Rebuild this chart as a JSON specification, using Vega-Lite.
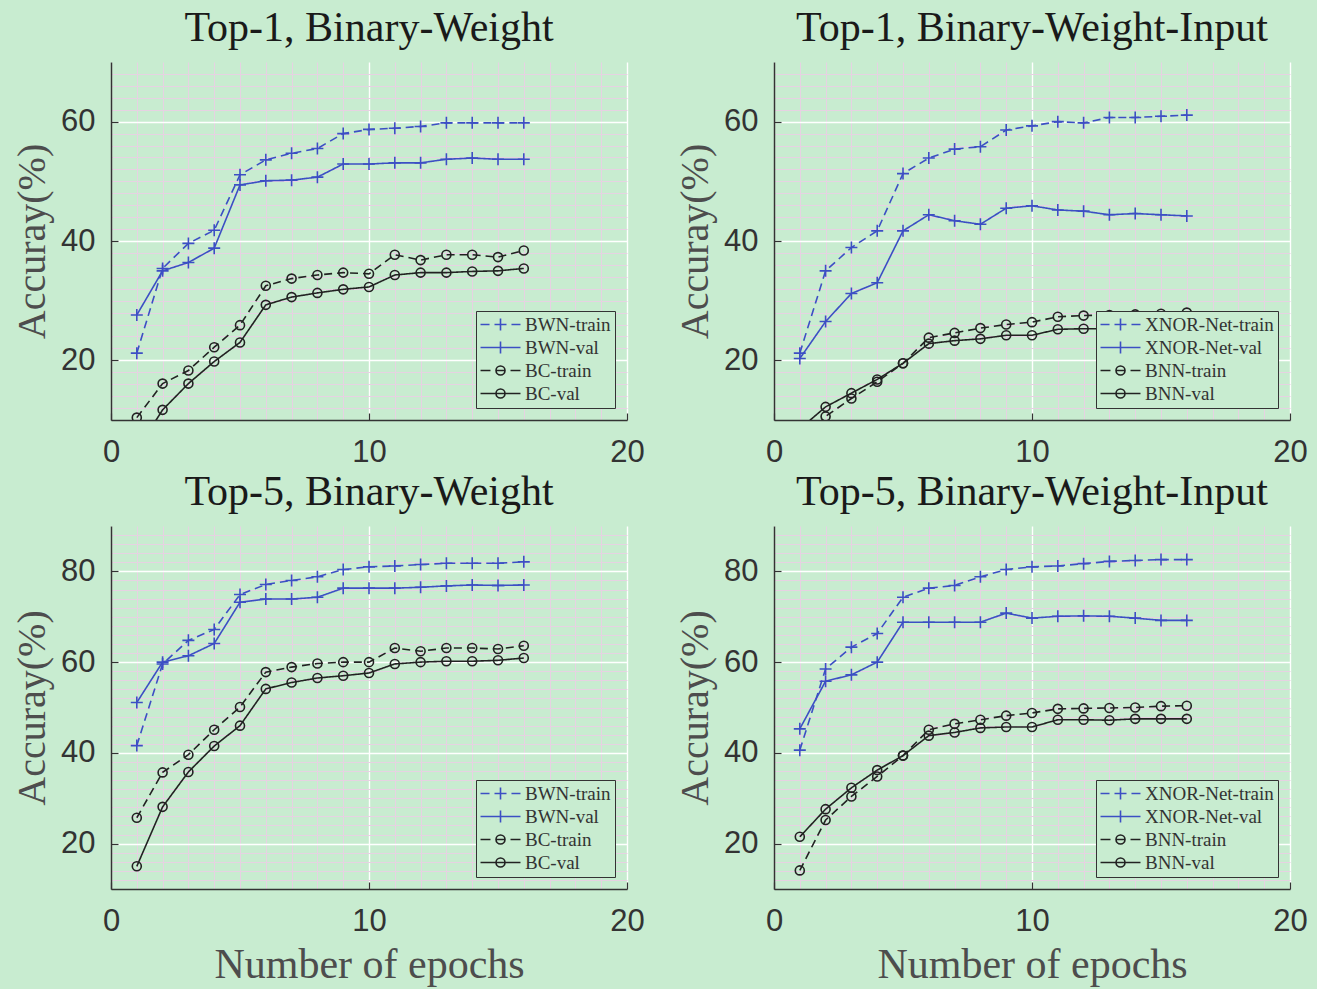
{
"$schema": "https://vega.github.io/schema/vega-lite/v6.json",
"background": "#c8ecd0",
"padding": {"left": 12, "top": 7, "right": 10, "bottom": 4},
"datasets": {
"a": [
{"series":"BWN-train","epoch":1,"acc":21.2},{"series":"BWN-train","epoch":2,"acc":35.4},{"series":"BWN-train","epoch":3,"acc":39.6},{"series":"BWN-train","epoch":4,"acc":41.8},{"series":"BWN-train","epoch":5,"acc":51.1},{"series":"BWN-train","epoch":6,"acc":53.6},{"series":"BWN-train","epoch":7,"acc":54.7},{"series":"BWN-train","epoch":8,"acc":55.5},{"series":"BWN-train","epoch":9,"acc":58.0},{"series":"BWN-train","epoch":10,"acc":58.7},{"series":"BWN-train","epoch":11,"acc":58.9},{"series":"BWN-train","epoch":12,"acc":59.2},{"series":"BWN-train","epoch":13,"acc":59.8},{"series":"BWN-train","epoch":14,"acc":59.8},{"series":"BWN-train","epoch":15,"acc":59.8},{"series":"BWN-train","epoch":16,"acc":59.8},
{"series":"BWN-val","epoch":1,"acc":27.6},{"series":"BWN-val","epoch":2,"acc":35.0},{"series":"BWN-val","epoch":3,"acc":36.4},{"series":"BWN-val","epoch":4,"acc":38.8},{"series":"BWN-val","epoch":5,"acc":49.4},{"series":"BWN-val","epoch":6,"acc":50.1},{"series":"BWN-val","epoch":7,"acc":50.2},{"series":"BWN-val","epoch":8,"acc":50.7},{"series":"BWN-val","epoch":9,"acc":52.9},{"series":"BWN-val","epoch":10,"acc":52.9},{"series":"BWN-val","epoch":11,"acc":53.1},{"series":"BWN-val","epoch":12,"acc":53.1},{"series":"BWN-val","epoch":13,"acc":53.7},{"series":"BWN-val","epoch":14,"acc":53.9},{"series":"BWN-val","epoch":15,"acc":53.7},{"series":"BWN-val","epoch":16,"acc":53.7},
{"series":"BC-train","epoch":1,"acc":10.4},{"series":"BC-train","epoch":2,"acc":16.1},{"series":"BC-train","epoch":3,"acc":18.3},{"series":"BC-train","epoch":4,"acc":22.2},{"series":"BC-train","epoch":5,"acc":25.9},{"series":"BC-train","epoch":6,"acc":32.5},{"series":"BC-train","epoch":7,"acc":33.7},{"series":"BC-train","epoch":8,"acc":34.3},{"series":"BC-train","epoch":9,"acc":34.7},{"series":"BC-train","epoch":10,"acc":34.5},{"series":"BC-train","epoch":11,"acc":37.7},{"series":"BC-train","epoch":12,"acc":36.8},{"series":"BC-train","epoch":13,"acc":37.7},{"series":"BC-train","epoch":14,"acc":37.7},{"series":"BC-train","epoch":15,"acc":37.3},{"series":"BC-train","epoch":16,"acc":38.4},
{"series":"BC-val","epoch":1,"acc":4.9},{"series":"BC-val","epoch":2,"acc":11.7},{"series":"BC-val","epoch":3,"acc":16.1},{"series":"BC-val","epoch":4,"acc":19.8},{"series":"BC-val","epoch":5,"acc":23.0},{"series":"BC-val","epoch":6,"acc":29.3},{"series":"BC-val","epoch":7,"acc":30.6},{"series":"BC-val","epoch":8,"acc":31.3},{"series":"BC-val","epoch":9,"acc":31.9},{"series":"BC-val","epoch":10,"acc":32.3},{"series":"BC-val","epoch":11,"acc":34.3},{"series":"BC-val","epoch":12,"acc":34.7},{"series":"BC-val","epoch":13,"acc":34.7},{"series":"BC-val","epoch":14,"acc":34.9},{"series":"BC-val","epoch":15,"acc":35.0},{"series":"BC-val","epoch":16,"acc":35.4}
],
"b": [
{"series":"XNOR-Net-train","epoch":1,"acc":21.2},{"series":"XNOR-Net-train","epoch":2,"acc":35.0},{"series":"XNOR-Net-train","epoch":3,"acc":38.9},{"series":"XNOR-Net-train","epoch":4,"acc":41.7},{"series":"XNOR-Net-train","epoch":5,"acc":51.3},{"series":"XNOR-Net-train","epoch":6,"acc":53.9},{"series":"XNOR-Net-train","epoch":7,"acc":55.4},{"series":"XNOR-Net-train","epoch":8,"acc":55.8},{"series":"XNOR-Net-train","epoch":9,"acc":58.6},{"series":"XNOR-Net-train","epoch":10,"acc":59.3},{"series":"XNOR-Net-train","epoch":11,"acc":60.0},{"series":"XNOR-Net-train","epoch":12,"acc":59.8},{"series":"XNOR-Net-train","epoch":13,"acc":60.7},{"series":"XNOR-Net-train","epoch":14,"acc":60.7},{"series":"XNOR-Net-train","epoch":15,"acc":60.9},{"series":"XNOR-Net-train","epoch":16,"acc":61.1},
{"series":"XNOR-Net-val","epoch":1,"acc":20.3},{"series":"XNOR-Net-val","epoch":2,"acc":26.5},{"series":"XNOR-Net-val","epoch":3,"acc":31.2},{"series":"XNOR-Net-val","epoch":4,"acc":33.0},{"series":"XNOR-Net-val","epoch":5,"acc":41.7},{"series":"XNOR-Net-val","epoch":6,"acc":44.4},{"series":"XNOR-Net-val","epoch":7,"acc":43.4},{"series":"XNOR-Net-val","epoch":8,"acc":42.8},{"series":"XNOR-Net-val","epoch":9,"acc":45.5},{"series":"XNOR-Net-val","epoch":10,"acc":45.9},{"series":"XNOR-Net-val","epoch":11,"acc":45.2},{"series":"XNOR-Net-val","epoch":12,"acc":45.0},{"series":"XNOR-Net-val","epoch":13,"acc":44.4},{"series":"XNOR-Net-val","epoch":14,"acc":44.6},{"series":"XNOR-Net-val","epoch":15,"acc":44.4},{"series":"XNOR-Net-val","epoch":16,"acc":44.2},
{"series":"BNN-train","epoch":1,"acc":6.0},{"series":"BNN-train","epoch":2,"acc":10.6},{"series":"BNN-train","epoch":3,"acc":13.6},{"series":"BNN-train","epoch":4,"acc":16.4},{"series":"BNN-train","epoch":5,"acc":19.5},{"series":"BNN-train","epoch":6,"acc":23.8},{"series":"BNN-train","epoch":7,"acc":24.6},{"series":"BNN-train","epoch":8,"acc":25.4},{"series":"BNN-train","epoch":9,"acc":26.0},{"series":"BNN-train","epoch":10,"acc":26.4},{"series":"BNN-train","epoch":11,"acc":27.3},{"series":"BNN-train","epoch":12,"acc":27.5},{"series":"BNN-train","epoch":13,"acc":27.6},{"series":"BNN-train","epoch":14,"acc":27.7},{"series":"BNN-train","epoch":15,"acc":27.8},{"series":"BNN-train","epoch":16,"acc":28.0},
{"series":"BNN-val","epoch":1,"acc":8.5},{"series":"BNN-val","epoch":2,"acc":12.2},{"series":"BNN-val","epoch":3,"acc":14.5},{"series":"BNN-val","epoch":4,"acc":16.8},{"series":"BNN-val","epoch":5,"acc":19.5},{"series":"BNN-val","epoch":6,"acc":22.8},{"series":"BNN-val","epoch":7,"acc":23.3},{"series":"BNN-val","epoch":8,"acc":23.6},{"series":"BNN-val","epoch":9,"acc":24.2},{"series":"BNN-val","epoch":10,"acc":24.2},{"series":"BNN-val","epoch":11,"acc":25.2},{"series":"BNN-val","epoch":12,"acc":25.3},{"series":"BNN-val","epoch":13,"acc":25.3},{"series":"BNN-val","epoch":14,"acc":25.4},{"series":"BNN-val","epoch":15,"acc":25.5},{"series":"BNN-val","epoch":16,"acc":25.5}
],
"c": [
{"series":"BWN-train","epoch":1,"acc":41.6},{"series":"BWN-train","epoch":2,"acc":59.6},{"series":"BWN-train","epoch":3,"acc":64.8},{"series":"BWN-train","epoch":4,"acc":67.2},{"series":"BWN-train","epoch":5,"acc":74.9},{"series":"BWN-train","epoch":6,"acc":77.1},{"series":"BWN-train","epoch":7,"acc":78.0},{"series":"BWN-train","epoch":8,"acc":78.8},{"series":"BWN-train","epoch":9,"acc":80.4},{"series":"BWN-train","epoch":10,"acc":81.0},{"series":"BWN-train","epoch":11,"acc":81.2},{"series":"BWN-train","epoch":12,"acc":81.5},{"series":"BWN-train","epoch":13,"acc":81.8},{"series":"BWN-train","epoch":14,"acc":81.8},{"series":"BWN-train","epoch":15,"acc":81.8},{"series":"BWN-train","epoch":16,"acc":82.1},
{"series":"BWN-val","epoch":1,"acc":51.1},{"series":"BWN-val","epoch":2,"acc":60.0},{"series":"BWN-val","epoch":3,"acc":61.4},{"series":"BWN-val","epoch":4,"acc":64.1},{"series":"BWN-val","epoch":5,"acc":73.2},{"series":"BWN-val","epoch":6,"acc":73.9},{"series":"BWN-val","epoch":7,"acc":73.9},{"series":"BWN-val","epoch":8,"acc":74.3},{"series":"BWN-val","epoch":9,"acc":76.3},{"series":"BWN-val","epoch":10,"acc":76.3},{"series":"BWN-val","epoch":11,"acc":76.3},{"series":"BWN-val","epoch":12,"acc":76.5},{"series":"BWN-val","epoch":13,"acc":76.8},{"series":"BWN-val","epoch":14,"acc":77.0},{"series":"BWN-val","epoch":15,"acc":76.9},{"series":"BWN-val","epoch":16,"acc":77.0},
{"series":"BC-train","epoch":1,"acc":25.7},{"series":"BC-train","epoch":2,"acc":35.7},{"series":"BC-train","epoch":3,"acc":39.6},{"series":"BC-train","epoch":4,"acc":45.1},{"series":"BC-train","epoch":5,"acc":50.1},{"series":"BC-train","epoch":6,"acc":57.8},{"series":"BC-train","epoch":7,"acc":58.9},{"series":"BC-train","epoch":8,"acc":59.7},{"series":"BC-train","epoch":9,"acc":60.0},{"series":"BC-train","epoch":10,"acc":60.0},{"series":"BC-train","epoch":11,"acc":63.1},{"series":"BC-train","epoch":12,"acc":62.4},{"series":"BC-train","epoch":13,"acc":63.1},{"series":"BC-train","epoch":14,"acc":63.1},{"series":"BC-train","epoch":15,"acc":62.9},{"series":"BC-train","epoch":16,"acc":63.6},
{"series":"BC-val","epoch":1,"acc":15.0},{"series":"BC-val","epoch":2,"acc":28.1},{"series":"BC-val","epoch":3,"acc":35.8},{"series":"BC-val","epoch":4,"acc":41.5},{"series":"BC-val","epoch":5,"acc":46.0},{"series":"BC-val","epoch":6,"acc":54.1},{"series":"BC-val","epoch":7,"acc":55.5},{"series":"BC-val","epoch":8,"acc":56.5},{"series":"BC-val","epoch":9,"acc":57.0},{"series":"BC-val","epoch":10,"acc":57.6},{"series":"BC-val","epoch":11,"acc":59.6},{"series":"BC-val","epoch":12,"acc":60.0},{"series":"BC-val","epoch":13,"acc":60.2},{"series":"BC-val","epoch":14,"acc":60.2},{"series":"BC-val","epoch":15,"acc":60.4},{"series":"BC-val","epoch":16,"acc":60.9}
],
"d": [
{"series":"XNOR-Net-train","epoch":1,"acc":40.6},{"series":"XNOR-Net-train","epoch":2,"acc":58.5},{"series":"XNOR-Net-train","epoch":3,"acc":63.3},{"series":"XNOR-Net-train","epoch":4,"acc":66.3},{"series":"XNOR-Net-train","epoch":5,"acc":74.3},{"series":"XNOR-Net-train","epoch":6,"acc":76.3},{"series":"XNOR-Net-train","epoch":7,"acc":76.9},{"series":"XNOR-Net-train","epoch":8,"acc":78.8},{"series":"XNOR-Net-train","epoch":9,"acc":80.4},{"series":"XNOR-Net-train","epoch":10,"acc":81.0},{"series":"XNOR-Net-train","epoch":11,"acc":81.2},{"series":"XNOR-Net-train","epoch":12,"acc":81.7},{"series":"XNOR-Net-train","epoch":13,"acc":82.2},{"series":"XNOR-Net-train","epoch":14,"acc":82.4},{"series":"XNOR-Net-train","epoch":15,"acc":82.6},{"series":"XNOR-Net-train","epoch":16,"acc":82.6},
{"series":"XNOR-Net-val","epoch":1,"acc":45.3},{"series":"XNOR-Net-val","epoch":2,"acc":55.8},{"series":"XNOR-Net-val","epoch":3,"acc":57.2},{"series":"XNOR-Net-val","epoch":4,"acc":60.0},{"series":"XNOR-Net-val","epoch":5,"acc":68.8},{"series":"XNOR-Net-val","epoch":6,"acc":68.8},{"series":"XNOR-Net-val","epoch":7,"acc":68.8},{"series":"XNOR-Net-val","epoch":8,"acc":68.8},{"series":"XNOR-Net-val","epoch":9,"acc":70.8},{"series":"XNOR-Net-val","epoch":10,"acc":69.7},{"series":"XNOR-Net-val","epoch":11,"acc":70.1},{"series":"XNOR-Net-val","epoch":12,"acc":70.2},{"series":"XNOR-Net-val","epoch":13,"acc":70.1},{"series":"XNOR-Net-val","epoch":14,"acc":69.7},{"series":"XNOR-Net-val","epoch":15,"acc":69.2},{"series":"XNOR-Net-val","epoch":16,"acc":69.2},
{"series":"BNN-train","epoch":1,"acc":14.1},{"series":"BNN-train","epoch":2,"acc":25.2},{"series":"BNN-train","epoch":3,"acc":30.4},{"series":"BNN-train","epoch":4,"acc":34.8},{"series":"BNN-train","epoch":5,"acc":39.4},{"series":"BNN-train","epoch":6,"acc":45.1},{"series":"BNN-train","epoch":7,"acc":46.4},{"series":"BNN-train","epoch":8,"acc":47.3},{"series":"BNN-train","epoch":9,"acc":48.2},{"series":"BNN-train","epoch":10,"acc":48.8},{"series":"BNN-train","epoch":11,"acc":49.7},{"series":"BNN-train","epoch":12,"acc":49.8},{"series":"BNN-train","epoch":13,"acc":49.9},{"series":"BNN-train","epoch":14,"acc":50.0},{"series":"BNN-train","epoch":15,"acc":50.3},{"series":"BNN-train","epoch":16,"acc":50.4},
{"series":"BNN-val","epoch":1,"acc":21.5},{"series":"BNN-val","epoch":2,"acc":27.6},{"series":"BNN-val","epoch":3,"acc":32.3},{"series":"BNN-val","epoch":4,"acc":36.2},{"series":"BNN-val","epoch":5,"acc":39.4},{"series":"BNN-val","epoch":6,"acc":43.8},{"series":"BNN-val","epoch":7,"acc":44.5},{"series":"BNN-val","epoch":8,"acc":45.5},{"series":"BNN-val","epoch":9,"acc":45.7},{"series":"BNN-val","epoch":10,"acc":45.7},{"series":"BNN-val","epoch":11,"acc":47.3},{"series":"BNN-val","epoch":12,"acc":47.3},{"series":"BNN-val","epoch":13,"acc":47.2},{"series":"BNN-val","epoch":14,"acc":47.5},{"series":"BNN-val","epoch":15,"acc":47.5},{"series":"BNN-val","epoch":16,"acc":47.5}
]
},
"columns": 2,
"spacing": {"row": 4, "column": 30},
"concat": [
{
"width": 516, "height": 358,
"title": "Top-1, Binary-Weight",
"data": {"name": "a"},
"layer": [
{"mark": {"type": "line", "clip": true, "strokeWidth": 1.6},
 "encoding": {
  "x": {"field": "epoch", "type": "quantitative", "scale": {"domain": [0, 20], "nice": false, "zero": false}, "axis": {"orient": "bottom", "values": [0, 10, 20], "title": null}},
  "y": {"field": "acc", "type": "quantitative", "scale": {"domain": [10, 70], "nice": false, "zero": false}, "axis": {"orient": "left", "values": [20, 40, 60], "title": "Accuray(%)"}},
  "stroke": {"field": "series", "type": "nominal", "scale": {"domain": ["BWN-val", "BWN-train", "BC-val", "BC-train"], "range": ["#3c4fc4", "#3c4fc4", "#222222", "#222222"]}, "legend": null},
  "strokeDash": {"field": "series", "type": "nominal", "scale": {"domain": ["BC-train", "BC-val", "BWN-train", "BWN-val"], "range": [[8, 5], [1, 0], [8, 5], [1, 0]]}, "legend": null}
 }},
{"transform": [{"filter": {"field": "series", "oneOf": ["BWN-train", "BWN-val"]}}],
 "mark": {"type": "point", "clip": true, "shape": "M-1,0H1M0,-1V1", "size": 144, "filled": false, "strokeWidth": 1.6, "opacity": 1},
 "encoding": {
  "x": {"field": "epoch", "type": "quantitative", "axis": {"orient": "top", "values": [1,2,3,4,5,6,7,8,9,11,12,13,14,15,16,17,18,19], "grid": true, "gridColor": "#e6d2e2", "gridWidth": 1, "labels": false, "ticks": false, "domain": false, "title": null}},
  "y": {"field": "acc", "type": "quantitative", "axis": {"orient": "right", "values": [12,14,16,18,22,24,26,28,30,32,34,36,38,42,44,46,48,50,52,54,56,58,62,64,66,68], "grid": true, "gridColor": "#e6d2e2", "gridWidth": 1, "labels": false, "ticks": false, "domain": false, "title": null}},
  "stroke": {"field": "series", "type": "nominal", "legend": null}
 }},
{"transform": [{"filter": {"field": "series", "oneOf": ["BC-train", "BC-val"]}}],
 "mark": {"type": "point", "clip": true, "shape": "circle", "size": 81, "filled": false, "strokeWidth": 1.6, "opacity": 1},
 "encoding": {
  "x": {"field": "epoch", "type": "quantitative", "axis": null},
  "y": {"field": "acc", "type": "quantitative", "axis": null},
  "stroke": {"field": "series", "type": "nominal", "legend": null}
 }},
{"mark": {"type": "point", "filled": false, "strokeWidth": 1.6, "opacity": 0, "clip": true},
 "encoding": {
  "x": {"field": "epoch", "type": "quantitative", "axis": null},
  "y": {"field": "acc", "type": "quantitative", "axis": null},
  "color": {"field": "series", "type": "nominal", "scale": {"domain": ["BWN-train", "BWN-val", "BC-train", "BC-val"], "range": ["#3c4fc4", "#3c4fc4", "#222222", "#222222"]}, "legend": {"title": null, "symbolOpacity": 1}},
  "shape": {"field": "series", "type": "nominal", "scale": {"domain": ["BWN-train", "BWN-val", "BC-train", "BC-val"], "range": ["M-3.33,0H-1.83M-1,0H1M0,-1V1M1.83,0H3.33", "M-3.33,0H3.33M0,-1V1", "M-3.33,0H-1.67M1.67,0H3.33M-0.75,0A0.75,0.75,0,1,0,0.75,0A0.75,0.75,0,1,0,-0.75,0M-0.75,0H0.75", "M-3.33,0H3.33M-0.75,0A0.75,0.75,0,1,0,0.75,0A0.75,0.75,0,1,0,-0.75,0"]}, "legend": {"title": null, "symbolOpacity": 1}}
 }}
],
"resolve": {"axis": {"x": "independent", "y": "independent"}}
},
{
"width": 516, "height": 358,
"title": "Top-1, Binary-Weight-Input",
"data": {"name": "b"},
"layer": [
{"mark": {"type": "line", "clip": true, "strokeWidth": 1.6},
 "encoding": {
  "x": {"field": "epoch", "type": "quantitative", "scale": {"domain": [0, 20], "nice": false, "zero": false}, "axis": {"orient": "bottom", "values": [0, 10, 20], "title": null}},
  "y": {"field": "acc", "type": "quantitative", "scale": {"domain": [10, 70], "nice": false, "zero": false}, "axis": {"orient": "left", "values": [20, 40, 60], "title": "Accuray(%)"}},
  "stroke": {"field": "series", "type": "nominal", "scale": {"domain": ["XNOR-Net-val", "XNOR-Net-train", "BNN-val", "BNN-train"], "range": ["#3c4fc4", "#3c4fc4", "#222222", "#222222"]}, "legend": null},
  "strokeDash": {"field": "series", "type": "nominal", "scale": {"domain": ["BNN-train", "BNN-val", "XNOR-Net-train", "XNOR-Net-val"], "range": [[8, 5], [1, 0], [8, 5], [1, 0]]}, "legend": null}
 }},
{"transform": [{"filter": {"field": "series", "oneOf": ["XNOR-Net-train", "XNOR-Net-val"]}}],
 "mark": {"type": "point", "clip": true, "shape": "M-1,0H1M0,-1V1", "size": 144, "filled": false, "strokeWidth": 1.6, "opacity": 1},
 "encoding": {
  "x": {"field": "epoch", "type": "quantitative", "axis": {"orient": "top", "values": [1,2,3,4,5,6,7,8,9,11,12,13,14,15,16,17,18,19], "grid": true, "gridColor": "#e6d2e2", "gridWidth": 1, "labels": false, "ticks": false, "domain": false, "title": null}},
  "y": {"field": "acc", "type": "quantitative", "axis": {"orient": "right", "values": [12,14,16,18,22,24,26,28,30,32,34,36,38,42,44,46,48,50,52,54,56,58,62,64,66,68], "grid": true, "gridColor": "#e6d2e2", "gridWidth": 1, "labels": false, "ticks": false, "domain": false, "title": null}},
  "stroke": {"field": "series", "type": "nominal", "legend": null}
 }},
{"transform": [{"filter": {"field": "series", "oneOf": ["BNN-train", "BNN-val"]}}],
 "mark": {"type": "point", "clip": true, "shape": "circle", "size": 81, "filled": false, "strokeWidth": 1.6, "opacity": 1},
 "encoding": {
  "x": {"field": "epoch", "type": "quantitative", "axis": null},
  "y": {"field": "acc", "type": "quantitative", "axis": null},
  "stroke": {"field": "series", "type": "nominal", "legend": null}
 }},
{"mark": {"type": "point", "filled": false, "strokeWidth": 1.6, "opacity": 0, "clip": true},
 "encoding": {
  "x": {"field": "epoch", "type": "quantitative", "axis": null},
  "y": {"field": "acc", "type": "quantitative", "axis": null},
  "color": {"field": "series", "type": "nominal", "scale": {"domain": ["XNOR-Net-train", "XNOR-Net-val", "BNN-train", "BNN-val"], "range": ["#3c4fc4", "#3c4fc4", "#222222", "#222222"]}, "legend": {"title": null, "symbolOpacity": 1}},
  "shape": {"field": "series", "type": "nominal", "scale": {"domain": ["XNOR-Net-train", "XNOR-Net-val", "BNN-train", "BNN-val"], "range": ["M-3.33,0H-1.83M-1,0H1M0,-1V1M1.83,0H3.33", "M-3.33,0H3.33M0,-1V1", "M-3.33,0H-1.67M1.67,0H3.33M-0.75,0A0.75,0.75,0,1,0,0.75,0A0.75,0.75,0,1,0,-0.75,0M-0.75,0H0.75", "M-3.33,0H3.33M-0.75,0A0.75,0.75,0,1,0,0.75,0A0.75,0.75,0,1,0,-0.75,0"]}, "legend": {"title": null, "symbolOpacity": 1}}
 }}
],
"resolve": {"axis": {"x": "independent", "y": "independent"}}
},
{
"width": 516, "height": 363,
"title": "Top-5, Binary-Weight",
"data": {"name": "c"},
"layer": [
{"mark": {"type": "line", "clip": true, "strokeWidth": 1.6},
 "encoding": {
  "x": {"field": "epoch", "type": "quantitative", "scale": {"domain": [0, 20], "nice": false, "zero": false}, "axis": {"orient": "bottom", "values": [0, 10, 20], "title": "Number of epochs"}},
  "y": {"field": "acc", "type": "quantitative", "scale": {"domain": [10, 90], "nice": false, "zero": false}, "axis": {"orient": "left", "values": [20, 40, 60, 80], "title": "Accuray(%)"}},
  "stroke": {"field": "series", "type": "nominal", "scale": {"domain": ["BWN-val", "BWN-train", "BC-val", "BC-train"], "range": ["#3c4fc4", "#3c4fc4", "#222222", "#222222"]}, "legend": null},
  "strokeDash": {"field": "series", "type": "nominal", "scale": {"domain": ["BC-train", "BC-val", "BWN-train", "BWN-val"], "range": [[8, 5], [1, 0], [8, 5], [1, 0]]}, "legend": null}
 }},
{"transform": [{"filter": {"field": "series", "oneOf": ["BWN-train", "BWN-val"]}}],
 "mark": {"type": "point", "clip": true, "shape": "M-1,0H1M0,-1V1", "size": 144, "filled": false, "strokeWidth": 1.6, "opacity": 1},
 "encoding": {
  "x": {"field": "epoch", "type": "quantitative", "axis": {"orient": "top", "values": [1,2,3,4,5,6,7,8,9,11,12,13,14,15,16,17,18,19], "grid": true, "gridColor": "#e6d2e2", "gridWidth": 1, "labels": false, "ticks": false, "domain": false, "title": null}},
  "y": {"field": "acc", "type": "quantitative", "axis": {"orient": "right", "values": [12,14,16,18,22,24,26,28,30,32,34,36,38,42,44,46,48,50,52,54,56,58,62,64,66,68,70,72,74,76,78,82,84,86,88], "grid": true, "gridColor": "#e6d2e2", "gridWidth": 1, "labels": false, "ticks": false, "domain": false, "title": null}},
  "stroke": {"field": "series", "type": "nominal", "legend": null}
 }},
{"transform": [{"filter": {"field": "series", "oneOf": ["BC-train", "BC-val"]}}],
 "mark": {"type": "point", "clip": true, "shape": "circle", "size": 81, "filled": false, "strokeWidth": 1.6, "opacity": 1},
 "encoding": {
  "x": {"field": "epoch", "type": "quantitative", "axis": null},
  "y": {"field": "acc", "type": "quantitative", "axis": null},
  "stroke": {"field": "series", "type": "nominal", "legend": null}
 }},
{"mark": {"type": "point", "filled": false, "strokeWidth": 1.6, "opacity": 0, "clip": true},
 "encoding": {
  "x": {"field": "epoch", "type": "quantitative", "axis": null},
  "y": {"field": "acc", "type": "quantitative", "axis": null},
  "color": {"field": "series", "type": "nominal", "scale": {"domain": ["BWN-train", "BWN-val", "BC-train", "BC-val"], "range": ["#3c4fc4", "#3c4fc4", "#222222", "#222222"]}, "legend": {"title": null, "symbolOpacity": 1}},
  "shape": {"field": "series", "type": "nominal", "scale": {"domain": ["BWN-train", "BWN-val", "BC-train", "BC-val"], "range": ["M-3.33,0H-1.83M-1,0H1M0,-1V1M1.83,0H3.33", "M-3.33,0H3.33M0,-1V1", "M-3.33,0H-1.67M1.67,0H3.33M-0.75,0A0.75,0.75,0,1,0,0.75,0A0.75,0.75,0,1,0,-0.75,0M-0.75,0H0.75", "M-3.33,0H3.33M-0.75,0A0.75,0.75,0,1,0,0.75,0A0.75,0.75,0,1,0,-0.75,0"]}, "legend": {"title": null, "symbolOpacity": 1}}
 }}
],
"resolve": {"axis": {"x": "independent", "y": "independent"}}
},
{
"width": 516, "height": 363,
"title": "Top-5, Binary-Weight-Input",
"data": {"name": "d"},
"layer": [
{"mark": {"type": "line", "clip": true, "strokeWidth": 1.6},
 "encoding": {
  "x": {"field": "epoch", "type": "quantitative", "scale": {"domain": [0, 20], "nice": false, "zero": false}, "axis": {"orient": "bottom", "values": [0, 10, 20], "title": "Number of epochs"}},
  "y": {"field": "acc", "type": "quantitative", "scale": {"domain": [10, 90], "nice": false, "zero": false}, "axis": {"orient": "left", "values": [20, 40, 60, 80], "title": "Accuray(%)"}},
  "stroke": {"field": "series", "type": "nominal", "scale": {"domain": ["XNOR-Net-val", "XNOR-Net-train", "BNN-val", "BNN-train"], "range": ["#3c4fc4", "#3c4fc4", "#222222", "#222222"]}, "legend": null},
  "strokeDash": {"field": "series", "type": "nominal", "scale": {"domain": ["BNN-train", "BNN-val", "XNOR-Net-train", "XNOR-Net-val"], "range": [[8, 5], [1, 0], [8, 5], [1, 0]]}, "legend": null}
 }},
{"transform": [{"filter": {"field": "series", "oneOf": ["XNOR-Net-train", "XNOR-Net-val"]}}],
 "mark": {"type": "point", "clip": true, "shape": "M-1,0H1M0,-1V1", "size": 144, "filled": false, "strokeWidth": 1.6, "opacity": 1},
 "encoding": {
  "x": {"field": "epoch", "type": "quantitative", "axis": {"orient": "top", "values": [1,2,3,4,5,6,7,8,9,11,12,13,14,15,16,17,18,19], "grid": true, "gridColor": "#e6d2e2", "gridWidth": 1, "labels": false, "ticks": false, "domain": false, "title": null}},
  "y": {"field": "acc", "type": "quantitative", "axis": {"orient": "right", "values": [12,14,16,18,22,24,26,28,30,32,34,36,38,42,44,46,48,50,52,54,56,58,62,64,66,68,70,72,74,76,78,82,84,86,88], "grid": true, "gridColor": "#e6d2e2", "gridWidth": 1, "labels": false, "ticks": false, "domain": false, "title": null}},
  "stroke": {"field": "series", "type": "nominal", "legend": null}
 }},
{"transform": [{"filter": {"field": "series", "oneOf": ["BNN-train", "BNN-val"]}}],
 "mark": {"type": "point", "clip": true, "shape": "circle", "size": 81, "filled": false, "strokeWidth": 1.6, "opacity": 1},
 "encoding": {
  "x": {"field": "epoch", "type": "quantitative", "axis": null},
  "y": {"field": "acc", "type": "quantitative", "axis": null},
  "stroke": {"field": "series", "type": "nominal", "legend": null}
 }},
{"mark": {"type": "point", "filled": false, "strokeWidth": 1.6, "opacity": 0, "clip": true},
 "encoding": {
  "x": {"field": "epoch", "type": "quantitative", "axis": null},
  "y": {"field": "acc", "type": "quantitative", "axis": null},
  "color": {"field": "series", "type": "nominal", "scale": {"domain": ["XNOR-Net-train", "XNOR-Net-val", "BNN-train", "BNN-val"], "range": ["#3c4fc4", "#3c4fc4", "#222222", "#222222"]}, "legend": {"title": null, "symbolOpacity": 1}},
  "shape": {"field": "series", "type": "nominal", "scale": {"domain": ["XNOR-Net-train", "XNOR-Net-val", "BNN-train", "BNN-val"], "range": ["M-3.33,0H-1.83M-1,0H1M0,-1V1M1.83,0H3.33", "M-3.33,0H3.33M0,-1V1", "M-3.33,0H-1.67M1.67,0H3.33M-0.75,0A0.75,0.75,0,1,0,0.75,0A0.75,0.75,0,1,0,-0.75,0M-0.75,0H0.75", "M-3.33,0H3.33M-0.75,0A0.75,0.75,0,1,0,0.75,0A0.75,0.75,0,1,0,-0.75,0"]}, "legend": {"title": null, "symbolOpacity": 1}}
 }}
],
"resolve": {"axis": {"x": "independent", "y": "independent"}}
}
],
"resolve": {"scale": {"color": "independent", "shape": "independent", "stroke": "independent", "strokeDash": "independent"}, "legend": {"color": "independent", "shape": "independent"}},
"config": {
 "view": {"stroke": null},
 "axis": {"labelFont": "Liberation Sans", "labelFontSize": 31, "labelColor": "#333333", "titleFont": "Liberation Serif", "titleFontWeight": "normal", "titleColor": "#4d4d4d", "domainColor": "#333333", "domainWidth": 1.5, "tickColor": "#333333", "tickSize": -7, "tickWidth": 1.2, "gridColor": "#ffffff", "gridWidth": 1.4, "gridOpacity": 1, "labelFlush": false, "labelOverlap": false, "labelBound": false},
 "axisX": {"labelPadding": 24, "titlePadding": 8, "titleFontSize": 42},
 "axisY": {"labelPadding": 23, "titlePadding": 8, "titleFontSize": 40},
 "title": {"font": "Liberation Serif", "fontSize": 42, "fontWeight": "normal", "color": "#1a1a1a", "offset": 12, "frame": "group", "anchor": "middle"},
 "legend": {"orient": "bottom-right", "offset": 12, "fillColor": "#c8ecd0", "strokeColor": "#333333", "padding": 4, "rowPadding": 3, "labelFont": "Liberation Serif", "labelFontSize": 19, "labelColor": "#333333", "symbolSize": 144, "symbolStrokeWidth": 1.6, "symbolOpacity": 1, "symbolOffset": 11, "labelOffset": 15}
}
}
